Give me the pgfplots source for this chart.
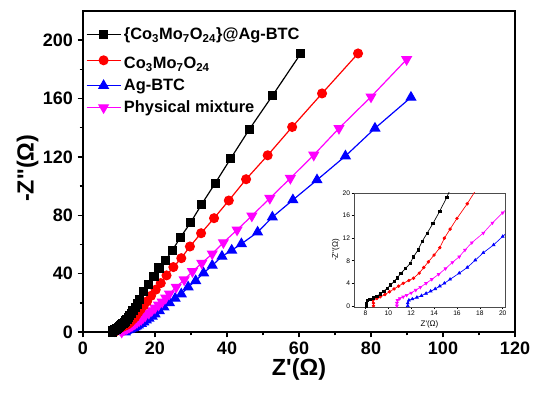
\documentclass[border=0pt]{standalone}
\usepackage{pgfplots}
\pgfplotsset{compat=1.18}
\usepackage{pgfplotstable}
\usepackage{fontspec}
\setmainfont{Liberation Sans}

\definecolor{cred}{RGB}{255,0,0}
\definecolor{cblue}{RGB}{0,0,255}
\definecolor{cmag}{RGB}{255,0,255}

\pgfplotstableread{
x y
8.1 0
8.1 0.5
8.15 1.0
8.4 1.2
8.7 1.4
9.0 1.7
9.3 2.1
9.6 2.6
9.9 3.1
10.2 3.7
10.5 4.3
10.8 5.0
11.1 5.8
11.5 6.6
11.9 7.5
12.2 8.7
12.6 9.9
12.95 11.4
13.4 12.9
13.9 14.6
14.5 16.8
15.1 19.2
15.8 22.4
16.9 27.8
18.3 32.4
19.7 38.1
21.1 43.8
22.9 49.0
24.8 55.9
27.1 65.0
29.9 75.0
32.9 87.3
36.7 101.9
41.0 118.8
46.2 138.9
52.6 161.9
60.5 190.9
}\tblack

\pgfplotstableread{
x y
8.7 0
8.7 0.5
8.65 1.0
9.0 1.3
9.3 1.6
9.7 2.0
10.1 2.5
10.5 3.0
10.9 3.5
11.3 4.0
11.8 4.5
12.2 4.9
12.7 5.8
13.1 6.8
13.5 7.8
14.0 9.0
14.5 10.3
14.9 12.0
15.4 13.6
16.0 15.5
16.9 18.1
17.8 21.0
18.9 24.8
20.2 29.0
21.6 33.5
23.2 38.8
25.1 44.5
27.3 50.6
29.7 58.6
32.8 67.7
36.4 78.0
40.5 90.1
45.3 104.7
51.3 121.1
58.1 140.5
66.4 163.5
76.4 190.9
}\tred

\pgfplotstableread{
x y
11.7 0
11.7 0.5
11.8 1.0
12.1 1.2
12.5 1.5
12.9 1.8
13.3 2.2
13.7 2.6
14.1 3.0
14.5 3.5
14.9 4.0
15.4 4.7
16.2 5.8
16.9 6.8
17.6 8.1
18.3 9.4
19.2 10.8
20.0 12.3
21.2 14.5
22.5 17.0
24.0 20.0
25.6 23.0
27.3 26.0
29.2 30.8
31.3 35.1
33.5 40.4
35.9 45.6
38.6 51.8
41.3 56.0
44.0 60.4
48.5 68.4
52.6 78.7
58.3 90.5
65.0 104.2
72.9 120.6
81.1 139.6
91.1 160.8
}\tblue

\pgfplotstableread{
x y
10.75 0
10.75 0.5
10.8 1.0
11.0 1.3
11.3 1.6
11.6 1.9
12.0 2.3
12.4 2.8
12.8 3.3
13.3 4.0
13.8 4.7
14.4 5.6
15.0 6.6
15.6 7.7
16.2 8.7
16.7 9.9
17.3 11.2
18.3 12.9
19.1 14.7
20.0 16.5
21.0 18.5
22.0 20.6
23.0 23.3
24.0 26.2
25.9 30.8
28.1 35.8
30.4 41.5
33.0 47.2
35.9 53.6
39.0 61.3
42.8 70.0
46.9 79.6
51.9 91.7
57.6 105.4
64.1 121.3
71.1 139.6
80.0 161.2
89.9 186.8
}\tmag

\begin{document}
\begin{tikzpicture}
\useasboundingbox (-62.25pt,-47.25pt) rectangle (338.25pt,249pt);
\begin{axis}[
  at={(0,0)}, anchor=south west,
  scale only axis, width=324pt, height=240.75pt,
  xmin=0, xmax=120, ymin=0, ymax=220,
  xtick={0,20,...,120}, ytick={0,40,...,200},
  minor tick num=1,
  tick align=outside, xtick pos=bottom, ytick pos=left,
  major tick length=4pt, minor tick length=2.5pt,
  axis line style={line width=1.4pt},
  every tick/.style={line width=1.1pt, black},
  /pgf/number format/assume math mode=true,
  tick label style={font=\bfseries\fontsize{13.5}{14}\selectfont},
  xlabel={\bfseries Z\textquotesingle(Ω)},
  ylabel={\bfseries -Z\textquotesingle\textquotesingle(Ω)},
  label style={font=\bfseries\fontsize{17.5}{18}\selectfont},
  xlabel style={at={(axis description cs:0.5,-0.118)}, anchor=center},
  ylabel style={at={(axis description cs:-0.128,0.51)}, anchor=center},
  legend cell align=left,
  legend style={at={(axis description cs:0.0,0.965)}, anchor=north west, draw=none, fill=none,
    font=\bfseries\fontsize{12.3}{13}\selectfont, row sep=2.2pt, inner sep=2pt},
  legend image code/.code={\draw[mark repeat=2,mark phase=2,#1] plot coordinates {(0cm,0cm) (0.45cm,0cm) (0.9cm,0cm)};},
]
\addplot[cblue, line width=0.9pt, mark=triangle*, mark size=4pt, forget plot] table {\tblue};
\addplot[cmag, line width=0.9pt, mark=triangle*, mark options={rotate=180}, mark size=4pt, forget plot] table {\tmag};
\addplot[cred, line width=0.9pt, mark=*, mark size=3.3pt, forget plot] table {\tred};
\addplot[black, line width=0.9pt, mark=square*, mark size=3pt, forget plot] table {\tblack};
\addlegendimage{black, line width=0.9pt, mark=square*, mark size=3pt}
\addlegendentry{\{Co\textsubscript{3}Mo\textsubscript{7}O\textsubscript{24}\}@Ag-BTC}
\addlegendimage{cred, line width=0.9pt, mark=*, mark size=3.3pt}
\addlegendentry{\rule{0pt}{14pt}Co\textsubscript{3}Mo\textsubscript{7}O\textsubscript{24}}
\addlegendimage{cblue, line width=0.9pt, mark=triangle*, mark size=4pt}
\addlegendentry{Ag-BTC}
\addlegendimage{cmag, line width=0.9pt, mark=triangle*, mark options={rotate=180}, mark size=4pt}
\addlegendentry{Physical mixture}
\end{axis}
\begin{axis}[
  at={(203.25pt,18.75pt)}, anchor=south west,
  scale only axis, width=113.25pt, height=85.5pt,
  xmin=7, xmax=20.2, ymin=-0.2, ymax=20,
  xtick={8,10,...,20}, ytick={0,4,...,20},
  tick align=outside, xtick pos=bottom, ytick pos=left,
  major tick length=1.8pt,
  axis line style={line width=0.5pt, black!70},
  every tick/.style={line width=0.4pt, black},
  axis background/.style={fill=white},
  /pgf/number format/assume math mode=true,
  tick label style={font=\fontsize{5}{5}\selectfont, inner sep=1pt},
  xlabel={Z\textquotesingle(Ω)},
  ylabel={-Z\textquotesingle\textquotesingle(Ω)},
  label style={font=\fontsize{6}{6}\selectfont},
  xlabel style={at={(axis description cs:0.5,-0.15)}, anchor=center},
  ylabel style={at={(axis description cs:-0.12,0.5)}, anchor=center},
]
\addplot[cblue, line width=0.5pt, mark=triangle*, mark size=1.2pt] table {\tblue};
\addplot[cmag, line width=0.5pt, mark=triangle*, mark options={rotate=180}, mark size=1.2pt] table {\tmag};
\addplot[cred, line width=0.5pt, mark=*, mark size=1pt] table {\tred};
\addplot[black, line width=0.5pt, mark=square*, mark size=0.9pt] table {\tblack};
\end{axis}
\end{tikzpicture}
\end{document}
